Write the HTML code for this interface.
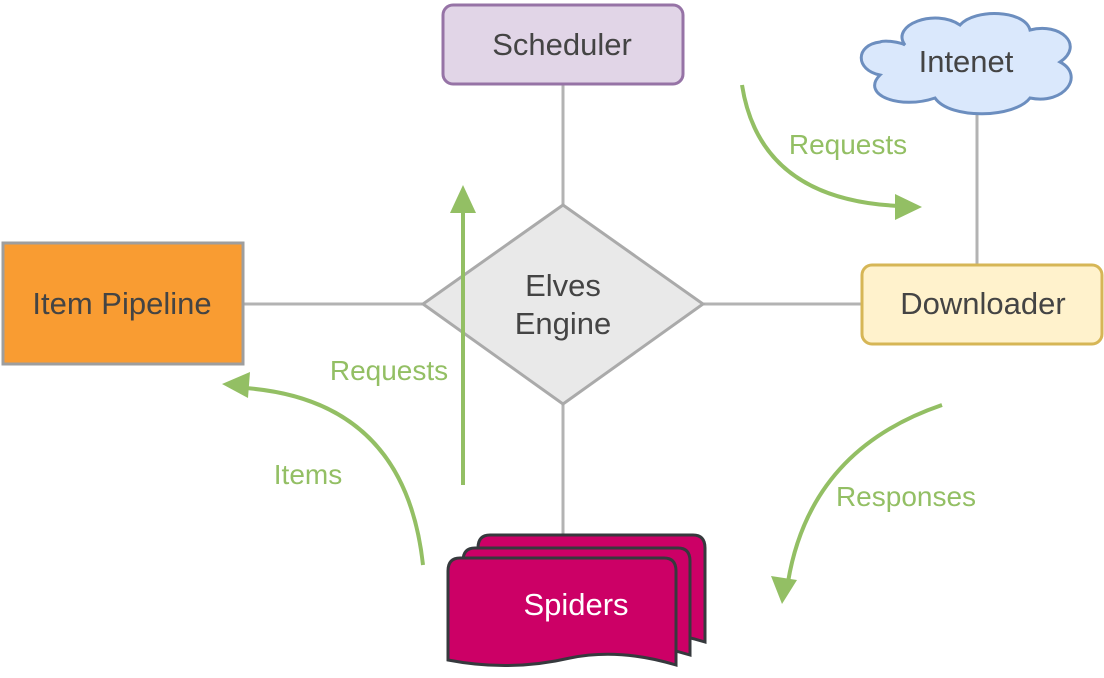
<!DOCTYPE html>
<html><head><meta charset="utf-8"><style>
html,body{margin:0;padding:0;background:#fff;}
svg{display:block;font-family:"Liberation Sans",Arial,sans-serif;}
</style></head><body>
<svg width="1104" height="678" viewBox="0 0 1104 678" xmlns="http://www.w3.org/2000/svg">
<g stroke="#b3b3b3" stroke-width="3" fill="none">
<line x1="563" y1="84" x2="563" y2="205"/>
<line x1="243" y1="304" x2="423" y2="304"/>
<line x1="703" y1="304" x2="862" y2="304"/>
<line x1="563" y1="404" x2="563" y2="540"/>
<line x1="977" y1="112" x2="977" y2="265"/>
</g>
<rect x="443" y="5" width="240" height="79" rx="10" fill="#e1d5e7" stroke="#9673a6" stroke-width="3"/>
<text x="562" y="55" font-size="31" fill="#444" text-anchor="middle">Scheduler</text>
<rect x="3" y="243" width="240" height="121" fill="#f99c32" stroke="#9e9e9e" stroke-width="3"/>
<text x="122" y="314" font-size="31" fill="#444" text-anchor="middle">Item Pipeline</text>
<rect x="862" y="265" width="240" height="79" rx="10" fill="#fff2cc" stroke="#d6b656" stroke-width="3"/>
<text x="983" y="314" font-size="31" fill="#444" text-anchor="middle">Downloader</text>
<polygon points="563,205 703,304 563,404 423,304" fill="#e9e9e9" stroke="#aaaaaa" stroke-width="3"/>
<text x="563" y="296" font-size="31" fill="#444" text-anchor="middle">Elves</text>
<text x="563" y="334" font-size="31" fill="#444" text-anchor="middle">Engine</text>
<path d="M905,45 C890,25 935,8 960,25 C975,8 1025,10 1030,30 C1060,22 1085,45 1060,62 C1085,75 1065,105 1030,98 C1015,118 950,120 935,98 C900,110 860,95 880,75 C855,70 855,45 880,42 C885,40 900,42 905,45 Z" fill="#dae8fc" stroke="#6c8ebf" stroke-width="3"/>
<text x="966" y="72" font-size="31" fill="#444" text-anchor="middle">Intenet</text>
<g fill="#cc0066" stroke="#36393d" stroke-width="3">
<path d="M478,548 Q478,535 490,535 L693,535 Q705,535 705,548 L705,642 Q650,625 600,635 Q540,648 478,632 Z"/>
<path d="M463,561 Q463,548 475,548 L678,548 Q690,548 690,561 L690,655 Q635,638 585,648 Q525,661 463,645 Z"/>
<path d="M448,571 Q448,558 460,558 L664,558 Q676,558 676,571 L676,665 Q620,648 570,658 Q510,672 448,660 Z"/>
</g>
<text x="576" y="615" font-size="31" fill="#fff" text-anchor="middle">Spiders</text>
<g stroke="#93bf64" stroke-width="4" fill="none">
<line x1="463" y1="485" x2="463" y2="210"/>
<path d="M742,85 Q760,200 900,206"/>
<path d="M942,405 Q810,450 788,582"/>
<path d="M423,565 Q405,400 245,388"/>
</g>
<g fill="#93bf64">
<polygon points="463,185 450,213 476,213"/>
<polygon points="922,207 895,194 895,220"/>
<polygon points="782,604 771,576 797,580"/>
<polygon points="222,384 250,372 248,398"/>
</g>
<g font-size="28" fill="#93bf64" text-anchor="middle">
<text x="848" y="154">Requests</text>
<text x="389" y="380">Requests</text>
<text x="308" y="484">Items</text>
<text x="906" y="506">Responses</text>
</g>
</svg>
</body></html>
